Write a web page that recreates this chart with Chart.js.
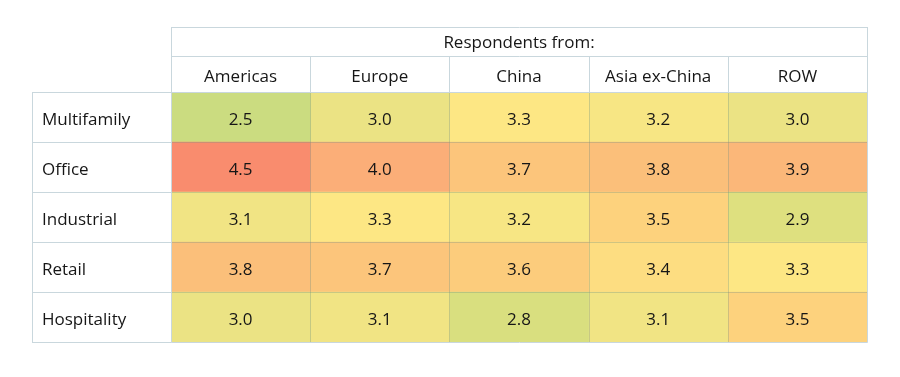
<!DOCTYPE html>
<html lang="en">
<head>
  <meta charset="UTF-8" />
  <title>Respondents heatmap</title>
  <style>
    * {
      margin: 0;
      padding: 0;
    }

    body {
      background: #ffffff;
    }

    .chartBox {
      width: 900px;
      height: 377px;
    }
  </style>
</head>
<body>
  <div class="chartBox">
    <canvas id="myChart"></canvas>
  </div>
  <script src="https://cdn.jsdelivr.net/npm/chart.js@4"></script>
  <script>
    const headerTitle = "Respondents from:";
    const regions = ["Americas", "Europe", "China", "Asia ex-China", "ROW"];
    const sectors = ["Multifamily", "Office", "Industrial", "Retail", "Hospitality"];

    // one array per region, values in sector order
    const americas = [2.5, 4.5, 3.1, 3.8, 3.0];
    const europe = [3.0, 4.0, 3.3, 3.7, 3.1];
    const china = [3.3, 3.7, 3.2, 3.6, 2.8];
    const asiaExChina = [3.2, 3.8, 3.5, 3.4, 3.1];
    const row = [3.0, 3.9, 2.9, 3.3, 3.5];
    const regionValues = [americas, europe, china, asiaExChina, row];

    // green -> yellow -> red colour scale
    const colorStops = [
      [2.5, [203, 220, 128]],
      [2.9, [222, 224, 127]],
      [3.0, [235, 227, 132]],
      [3.3, [253, 231, 132]],
      [3.5, [253, 210, 125]],
      [3.8, [251, 191, 122]],
      [4.0, [251, 174, 120]],
      [4.5, [249, 140, 110]],
    ];

    function heatColor(v) {
      if (v <= colorStops[0][0]) return "rgb(" + colorStops[0][1].join(",") + ")";
      for (let i = 1; i < colorStops.length; i++) {
        const [v1, c1] = colorStops[i];
        const [v0, c0] = colorStops[i - 1];
        if (v <= v1) {
          const t = (v - v0) / (v1 - v0);
          const c = c0.map((a, k) => Math.round(a + (c1[k] - a) * t));
          return "rgb(" + c.join(",") + ")";
        }
      }
      return "rgb(" + colorStops[colorStops.length - 1][1].join(",") + ")";
    }

    const fontFamily = "'Open Sans', 'Noto Sans', sans-serif";
    const textColor = "#161616";
    const lineColor = "#c9d7dd";
    const innerLineColor = "rgba(120, 150, 130, 0.35)";

    const datasets = regions.map((name, i) => ({
      label: name,
      data: sectors.map(() => 1),
      values: regionValues[i],
      backgroundColor: regionValues[i].map(heatColor),
      borderWidth: 0,
      categoryPercentage: 1,
      barPercentage: 1,
    }));

    const tablePlugin = {
      id: "tablePlugin",
      afterDatasetsDraw(chart) {
        const ctx = chart.ctx;
        const area = chart.chartArea;
        const yScale = chart.scales.y;
        const xScale = chart.scales.x;
        const rowH = (area.bottom - area.top) / sectors.length;
        const labelLeft = 32;
        const headTop = 27;
        const headMid = 56;

        ctx.save();

        // cell values
        ctx.font = "17px " + fontFamily;
        ctx.fillStyle = textColor;
        ctx.textAlign = "center";
        ctx.textBaseline = "middle";
        chart.data.datasets.forEach((ds, di) => {
          chart.getDatasetMeta(di).data.forEach((bar, j) => {
            const cx = (bar.x + bar.base) / 2;
            ctx.fillText(ds.values[j].toFixed(1), cx, bar.y + 3);
          });
        });

        // inner lines of the coloured area
        ctx.lineWidth = 1;
        ctx.strokeStyle = innerLineColor;
        ctx.beginPath();
        for (let i = 1; i < regions.length; i++) {
          const x = Math.round(xScale.getPixelForValue(i)) + 0.5;
          ctx.moveTo(x, area.top);
          ctx.lineTo(x, area.bottom);
        }
        for (let j = 1; j < sectors.length; j++) {
          const y = Math.round(area.top + j * rowH) + 0.5;
          ctx.moveTo(area.left, y);
          ctx.lineTo(area.right, y);
        }
        ctx.stroke();

        // outer table lines
        ctx.strokeStyle = lineColor;
        ctx.beginPath();
        const L = Math.round(area.left) + 0.5;
        const R = Math.round(area.right) + 0.5;
        const T = Math.round(area.top) + 0.5;
        const B = Math.round(area.bottom) + 0.5;
        // header block
        ctx.moveTo(L, headTop + 0.5);
        ctx.lineTo(R, headTop + 0.5);
        ctx.moveTo(L, headMid + 0.5);
        ctx.lineTo(R, headMid + 0.5);
        ctx.moveTo(L, headTop);
        ctx.lineTo(L, B);
        ctx.moveTo(R, headTop);
        ctx.lineTo(R, B);
        for (let i = 1; i < regions.length; i++) {
          const x = Math.round(xScale.getPixelForValue(i)) + 0.5;
          ctx.moveTo(x, headMid);
          ctx.lineTo(x, T);
        }
        // row label column
        ctx.moveTo(labelLeft + 0.5, T);
        ctx.lineTo(labelLeft + 0.5, B);
        for (let j = 0; j <= sectors.length; j++) {
          const y = Math.round(area.top + j * rowH) + 0.5;
          ctx.moveTo(labelLeft, y);
          ctx.lineTo(L, y);
        }
        ctx.moveTo(L, T);
        ctx.lineTo(R, T);
        ctx.moveTo(L, B);
        ctx.lineTo(R, B);
        ctx.stroke();

        // header texts
        ctx.fillStyle = textColor;
        ctx.textAlign = "center";
        ctx.fillText(headerTitle, (area.left + area.right) / 2, (headTop + headMid) / 2 + 2);
        regions.forEach((name, i) => {
          const cx = xScale.getPixelForValue(i + 0.5);
          ctx.fillText(name, cx, (headMid + area.top) / 2 + 3);
        });

        // row labels
        ctx.textAlign = "left";
        sectors.forEach((name, j) => {
          const cy = yScale.getPixelForValue(j);
          ctx.fillText(name, labelLeft + 10, cy + 3);
        });

        ctx.restore();
      },
    };

    const config = {
      type: "bar",
      data: {
        labels: sectors,
        datasets: datasets,
      },
      options: {
        responsive: true,
        maintainAspectRatio: false,
        animation: false,
        indexAxis: "y",
        layout: {
          padding: { left: 171, right: 33, top: 92, bottom: 35 },
        },
        scales: {
          x: {
            stacked: true,
            min: 0,
            max: regions.length,
            display: false,
          },
          y: {
            stacked: true,
            display: false,
          },
        },
        plugins: {
          legend: { display: false },
          tooltip: { enabled: false },
        },
      },
      plugins: [tablePlugin],
    };

    const ctx = document.getElementById("myChart").getContext("2d");
    const myChart = new Chart(ctx, config);
  </script>
</body>
</html>
